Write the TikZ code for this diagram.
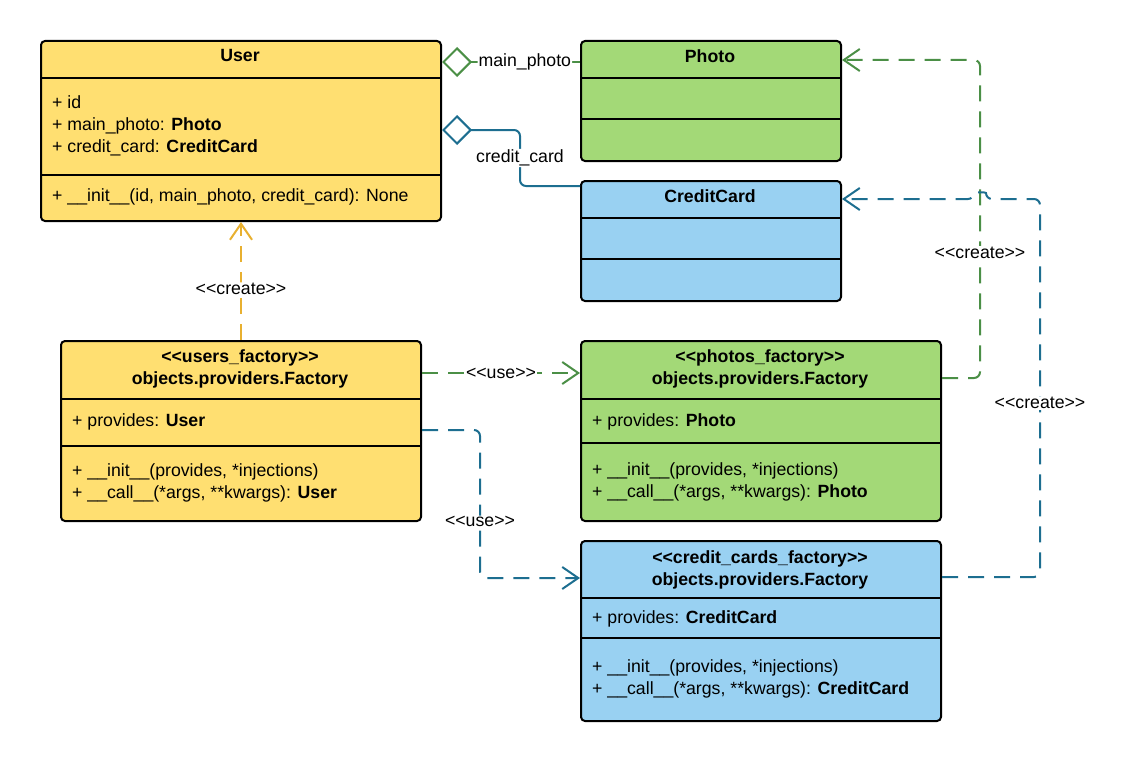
\documentclass[tikz,border=0pt]{standalone}
\usepackage{fontspec}
\setmainfont{Liberation Sans}[Ligatures=TeXOff]
\usetikzlibrary{arrows.meta}
\definecolor{fyel}{HTML}{FFDF71}
\definecolor{fgrn}{HTML}{A3D977}
\definecolor{fblu}{HTML}{99D1F2}
\definecolor{lgrn}{HTML}{4B8F46}
\definecolor{lblu}{HTML}{1D6E90}
\definecolor{lorg}{HTML}{E8B030}
\begin{document}
\begin{tikzpicture}[x=1pt,y=-1pt,
  font=\fontsize{17.7}{21.5}\selectfont,
  classbox/.style={draw=black, line width=2pt, rounded corners=4pt, inner sep=0pt, anchor=north west},
  divider/.style={draw=black, line width=2pt},
  ctitle/.style={font=\fontsize{17.7}{21.5}\selectfont\bfseries, anchor=base, inner sep=0pt},
  member/.style={anchor=base west, inner sep=0pt},
  conn/.style={line width=2pt, rounded corners=6pt},
  dep/.style={conn, dash pattern=on 16pt off 10pt, -{Straight Barb[length=16pt,width=22pt]}},
  agg/.style={conn, {Diamond[open,length=30pt,width=30pt]}-},
  lbl/.style={fill=white, text=black, inner sep=1pt, font=\fontsize{17.7}{21.5}\selectfont},
]
\useasboundingbox (0,0) rectangle (1126,760);

% User
\node[classbox, fill=fyel, minimum width=400pt, minimum height=180pt] (user) at (40,40) {};
\draw[divider] (40,78) -- (440,78);
\draw[divider] (40,175) -- (440,175);
\node[ctitle] (usert) at (240,62) {User};
\node[member] (u1) at (52,108) {+ id};
\node[member] (u2) at (52,130) {+ main\_photo: \textbf{Photo}};
\node[member] (u3) at (52,152) {+ credit\_card: \textbf{CreditCard}};
\node[member] (u4) at (52,201) {+ \_\_init\_\_(id, main\_photo, credit\_card): None};

% Photo
\node[classbox, fill=fgrn, minimum width=260pt, minimum height=120pt] (photo) at (580,40) {};
\draw[divider] (580,78) -- (840,78);
\draw[divider] (580,119) -- (840,119);
\node[ctitle] (photot) at (710,63) {Photo};

% CreditCard
\node[classbox, fill=fblu, minimum width=260pt, minimum height=120pt] (ccard) at (580,180) {};
\draw[divider] (580,218) -- (840,218);
\draw[divider] (580,259) -- (840,259);
\node[ctitle] (ccardt) at (710,202.5) {CreditCard};

% users_factory
\node[classbox, fill=fyel, minimum width=360pt, minimum height=180pt] (uf) at (60,340) {};
\draw[divider] (60,399) -- (420,399);
\draw[divider] (60,446) -- (420,446);
\node[ctitle] (uft1) at (240,362.5) {<<users\_factory>>};
\node[ctitle] (uft2) at (240,384.5) {objects.providers.Factory};
\node[member] (uf1) at (72,426) {+ provides: \textbf{User}};
\node[member] (uf2) at (72,476) {+ \_\_init\_\_(provides, *injections)};
\node[member] (uf3) at (72,498) {+ \_\_call\_\_(*args, **kwargs): \textbf{User}};

% photos_factory
\node[classbox, fill=fgrn, minimum width=360pt, minimum height=180pt] (pf) at (580,340) {};
\draw[divider] (580,399) -- (940,399);
\draw[divider] (580,443) -- (940,443);
\node[ctitle] (pft1) at (760,362.5) {<<photos\_factory>>};
\node[ctitle] (pft2) at (760,384.5) {objects.providers.Factory};
\node[member] (pf1) at (592,426) {+ provides: \textbf{Photo}};
\node[member] (pf2) at (592,475) {+ \_\_init\_\_(provides, *injections)};
\node[member] (pf3) at (592,497) {+ \_\_call\_\_(*args, **kwargs): \textbf{Photo}};

% credit_cards_factory
\node[classbox, fill=fblu, minimum width=360pt, minimum height=180pt] (cf) at (580,540) {};
\draw[divider] (580,598) -- (940,598);
\draw[divider] (580,638) -- (940,638);
\node[ctitle] (cft1) at (760,563) {<<credit\_cards\_factory>>};
\node[ctitle] (cft2) at (760,585) {objects.providers.Factory};
\node[member] (cf1) at (592,623) {+ provides: \textbf{CreditCard}};
\node[member] (cf2) at (592,672) {+ \_\_init\_\_(provides, *injections)};
\node[member] (cf3) at (592,694) {+ \_\_call\_\_(*args, **kwargs): \textbf{CreditCard}};

% aggregations
\draw[agg, draw=lgrn] (user.east |- 0,62) -- node[lbl, pos=0.6]{main\_photo} (photo.west |- 0,62);
\draw[agg, draw=lblu] (user.east |- 0,130) -- (520,130) -- node[lbl]{credit\_card} (520,186) -- (ccard.west |- 0,186);

% dependencies
\draw[dep, draw=lorg] (uf.north) -- node[lbl, pos=0.43]{<<create>>} (user.south);
\draw[dep, draw=lgrn] (uf.east |- 0,373) -- node[lbl]{<<use>>} (pf.west |- 0,373);
\draw[dep, draw=lblu] (uf.east |- 0,430) -- (480,430) -- node[lbl, pos=0.62]{<<use>>} (480,578) -- (cf.west |- 0,578);
\draw[dep, draw=lgrn] (pf.east |- 0,378) -- (980,378) -- node[lbl, pos=0.393]{<<create>>} (980,60) -- (photo.east |- 0,60);
\draw[dep, draw=lblu] (cf.east |- 0,577) -- (1040,577) -- node[lbl, pos=0.46]{<<create>>} (1040,199) -- (986,199) .. controls (986,192) and (974,192) .. (974,199) -- (ccard.east |- 0,199);
\end{tikzpicture}
\end{document}
